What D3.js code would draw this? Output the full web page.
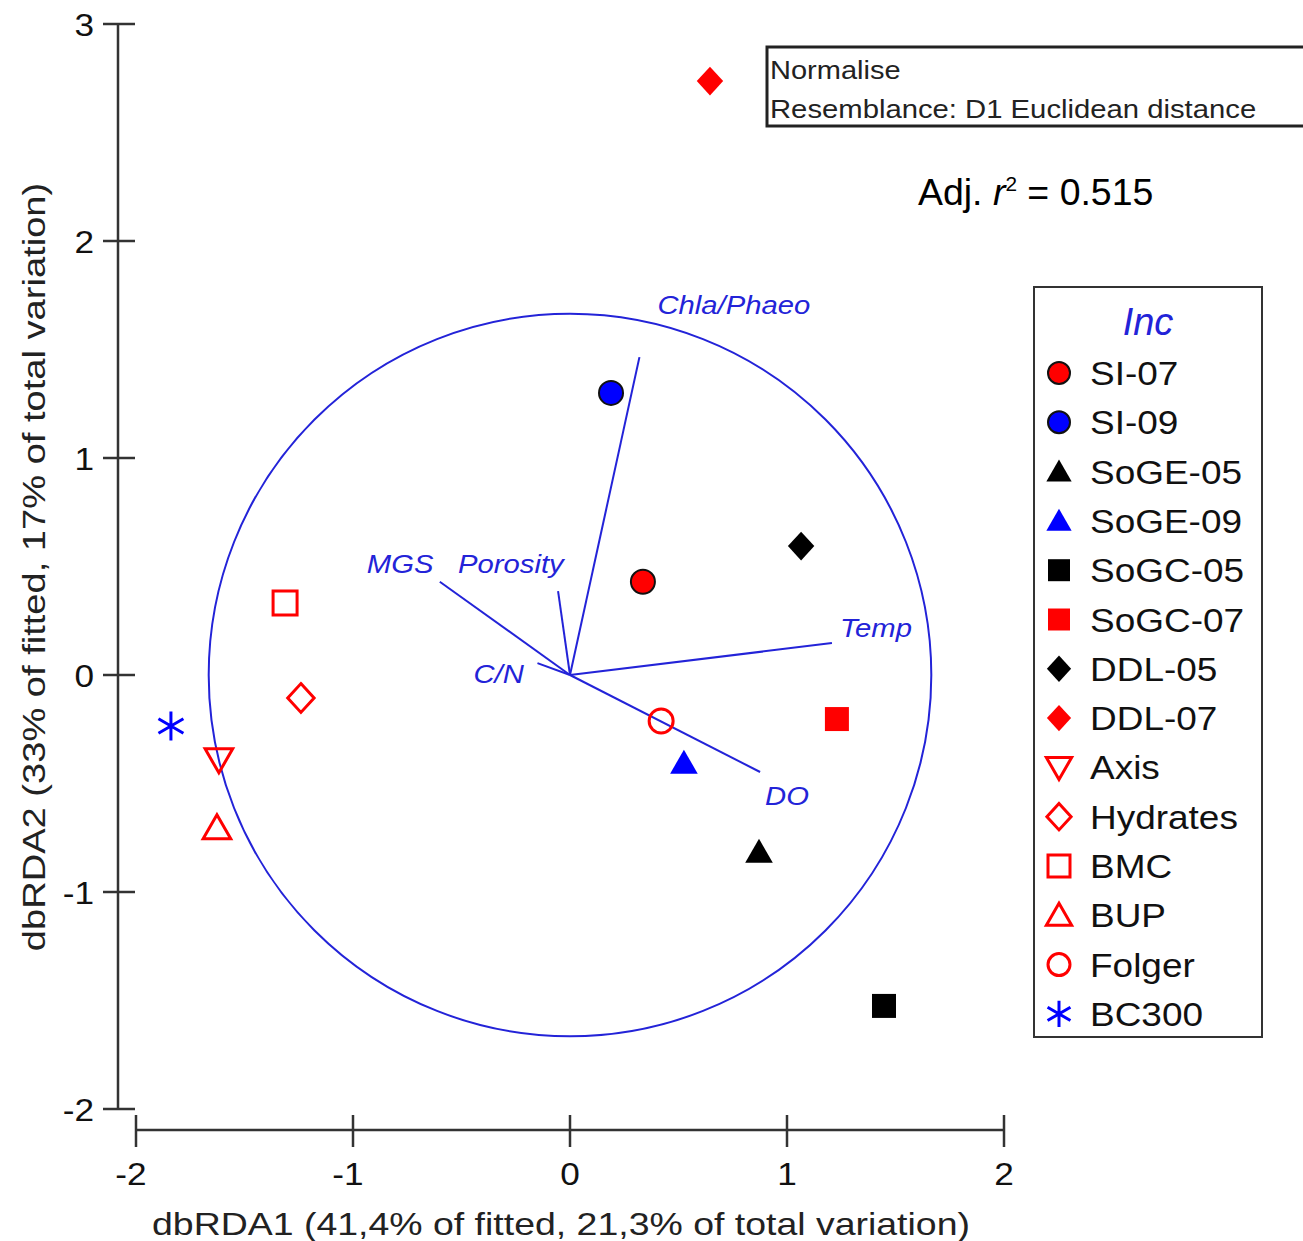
<!DOCTYPE html>
<html>
<head>
<meta charset="utf-8">
<script src="https://cdn.jsdelivr.net/npm/d3@7"></script>
<style>
body { margin: 0; background: #fff; }
text { font-family: "Liberation Sans", Arial, sans-serif; }
</style>
</head>
<body>
<div id="plot"></div>
<script>
// samples (dbRDA1, dbRDA2)
var groups  = ["SI-07", "SI-09", "SoGE-05", "SoGE-09", "SoGC-05", "SoGC-07", "DDL-05", "DDL-07",
               "Axis", "Hydrates", "BMC", "BUP", "Folger", "BC300"];
var xs      = [0.336, 0.189, 0.871, 0.525, 1.447, 1.230, 1.065, 0.645,
               -1.618, -1.240, -1.313, -1.627, 0.420, -1.839];
var ys      = [0.430, 1.300, -0.816, -0.405, -1.525, -0.203, 0.594, 2.737,
               -0.390, -0.106, 0.332, -0.705, -0.212, -0.235];
var shapes  = ["circle", "circle", "triangle", "triangle", "square", "square", "diamond", "diamond",
               "triDown", "diamond", "square", "triangle", "circle", "star"];
var colors  = ["#ff0000", "#0000ff", "#000000", "#0000ff", "#000000", "#ff0000", "#000000", "#ff0000",
               "#ff0000", "#ff0000", "#ff0000", "#ff0000", "#ff0000", "#0000ff"];
var filled  = [true, true, true, true, true, true, true, true,
               false, false, false, false, false, false];

// vectors
var vecNames = ["Chla/Phaeo", "Porosity", "MGS", "C/N", "Temp", "DO"];
var vecX     = [0.32, -0.055, -0.60, -0.15, 1.207, 0.876];
var vecY     = [1.465, 0.387, 0.43, 0.055, 0.147, -0.447];

var xTicks = [-2, -1, 0, 1, 2];
var yTicks = [-2, -1, 0, 1, 2, 3];
var circleR = 1.665;

var W = 1303, H = 1241;
var svg = d3.select("#plot").append("svg").attr("width", W).attr("height", H);

var x = d3.scaleLinear().domain([-2, 2]).range([136, 1004]);
var y = d3.scaleLinear().domain([-2, 3]).range([1109, 24]);

var axisCol = "#333";

// stretch text horizontally (the original font is wider)
function widen(sel, f) {
	sel.each(function() {
		var w = this.getComputedTextLength();
		d3.select(this).attr("textLength", w * f).attr("lengthAdjust", "spacingAndGlyphs");
	});
	return sel;
}

// y axis
svg.append("line").attr("x1", 118).attr("x2", 118).attr("y1", y(3)).attr("y2", y(-2))
	.attr("stroke", axisCol).attr("stroke-width", 2.5);
svg.selectAll(".yt").data(yTicks).enter().append("line")
	.attr("x1", 103).attr("x2", 135).attr("y1", d => y(d)).attr("y2", d => y(d))
	.attr("stroke", axisCol).attr("stroke-width", 2.5);
widen(svg.selectAll(".yl").data(yTicks).enter().append("text")
	.attr("x", 94).attr("y", d => y(d) + 12).attr("text-anchor", "end")
	.attr("font-size", 32).attr("fill", "#111").text(d => d), 1.1);

// x axis
svg.append("line").attr("x1", x(-2)).attr("x2", x(2)).attr("y1", 1130).attr("y2", 1130)
	.attr("stroke", axisCol).attr("stroke-width", 2.5);
svg.selectAll(".xt").data(xTicks).enter().append("line")
	.attr("x1", d => x(d)).attr("x2", d => x(d)).attr("y1", 1115).attr("y2", 1147)
	.attr("stroke", axisCol).attr("stroke-width", 2.5);
widen(svg.selectAll(".xl").data(xTicks).enter().append("text")
	.attr("x", d => x(d) - (d < 0 ? 5 : 0)).attr("y", 1185).attr("text-anchor", "middle")
	.attr("font-size", 32).attr("fill", "#111").text(d => d), 1.1);

// axis titles
widen(svg.append("text").attr("x", 561).attr("y", 1235).attr("text-anchor", "middle")
	.attr("font-size", 32).attr("fill", "#222")
	.text("dbRDA1 (41,4% of fitted, 21,3% of total variation)"), 1.17);
widen(svg.append("text").attr("transform", "translate(45,567) rotate(-90)").attr("text-anchor", "middle")
	.attr("font-size", 32).attr("fill", "#222")
	.text("dbRDA2 (33% of fitted, 17% of total variation)"), 1.19);

// correlation circle
svg.append("ellipse").attr("cx", x(0)).attr("cy", y(0))
	.attr("rx", x(circleR) - x(0)).attr("ry", y(0) - y(circleR))
	.attr("fill", "none").attr("stroke", "#2323d8").attr("stroke-width", 2);

// vectors
var vecs = vecNames.map((n, i) => ({name: n, x: vecX[i], y: vecY[i]}));
svg.selectAll(".vec").data(vecs).enter().append("line")
	.attr("x1", x(0)).attr("y1", y(0)).attr("x2", d => x(d.x)).attr("y2", d => y(d.y))
	.attr("stroke", "#2323d8").attr("stroke-width", 2);

// vector labels (offsets from tip)
var labOff = {"Chla/Phaeo": [18, -43], "Porosity": [-100, -18], "MGS": [-73, -9],
	"C/N": [-64, 20], "Temp": [8, -6], "DO": [5, 33]};
widen(svg.selectAll(".vl").data(vecs).enter().append("text")
	.attr("x", d => x(d.x) + labOff[d.name][0]).attr("y", d => y(d.y) + labOff[d.name][1])
	.attr("font-size", 25).attr("font-style", "italic").attr("fill", "#2323d8")
	.text(d => d.name), 1.17);

// marker shapes
function shapePath(s, r) {
	var p = d3.path();
	if (s == "circle") { p.arc(0, 0, r, 0, 2 * Math.PI); }
	else if (s == "square") { p.rect(-r, -r, 2 * r, 2 * r); }
	else if (s == "triangle") { p.moveTo(0, -r * 1.1); p.lineTo(r * 1.15, r * 0.9); p.lineTo(-r * 1.15, r * 0.9); p.closePath(); }
	else if (s == "triDown") { p.moveTo(0, r * 1.1); p.lineTo(r * 1.15, -r * 0.9); p.lineTo(-r * 1.15, -r * 0.9); p.closePath(); }
	else if (s == "diamond") { p.moveTo(0, -r * 1.2); p.lineTo(r * 1.1, 0); p.lineTo(0, r * 1.2); p.lineTo(-r * 1.1, 0); p.closePath(); }
	else if (s == "star") {
		for (var k = 0; k < 3; k++) {
			var a = Math.PI / 2 + k * Math.PI / 3;
			p.moveTo(r * 1.2 * Math.cos(a), r * 1.2 * Math.sin(a));
			p.lineTo(-r * 1.2 * Math.cos(a), -r * 1.2 * Math.sin(a));
		}
	}
	return p.toString();
}

function drawMarker(g, i, r) {
	var s = shapes[i];
	var f = filled[i];
	var outline = (s == "circle" && f) ? "#111" : colors[i];
	g.append("path").attr("d", shapePath(s, r))
		.attr("fill", f ? colors[i] : "none")
		.attr("stroke", s == "star" ? colors[i] : outline)
		.attr("stroke-width", f ? (s == "circle" ? 2 : 0) : 3);
}

var pts = groups.map((g, i) => i);
pts.forEach(function(i) {
	var g = svg.append("g").attr("transform", "translate(" + x(xs[i]) + "," + y(ys[i]) + ")");
	drawMarker(g, i, 12);
});

// info box
svg.append("rect").attr("x", 767).attr("y", 47).attr("width", 560).attr("height", 79)
	.attr("fill", "#fff").attr("stroke", "#222").attr("stroke-width", 3);
widen(svg.append("text").attr("x", 770).attr("y", 79).attr("font-size", 25).attr("fill", "#222").text("Normalise"), 1.16);
widen(svg.append("text").attr("x", 770).attr("y", 118).attr("font-size", 25).attr("fill", "#222")
	.text("Resemblance: D1 Euclidean distance"), 1.17);

// adj r2
var rt = svg.append("text").attr("x", 918).attr("y", 205).attr("font-size", 36).attr("fill", "#000");
rt.append("tspan").text("Adj. ");
rt.append("tspan").attr("font-style", "italic").text("r");
rt.append("tspan").attr("font-size", 20).attr("dy", -14).text("2");
rt.append("tspan").attr("dy", 14).text(" = 0.515");
widen(rt, 1.04);

// legend
svg.append("rect").attr("x", 1034).attr("y", 287).attr("width", 228).attr("height", 750)
	.attr("fill", "#fff").attr("stroke", "#333").attr("stroke-width", 2);
svg.append("text").attr("x", 1148).attr("y", 335).attr("text-anchor", "middle")
	.attr("font-size", 38).attr("font-style", "italic").attr("fill", "#2323d8").text("Inc");
pts.forEach(function(i) {
	var cy = 373 + i * 49.3;
	var g = svg.append("g").attr("transform", "translate(1059," + cy + ")");
	drawMarker(g, i, 11);
	widen(svg.append("text").attr("x", 1090).attr("y", cy + 12).attr("font-size", 33).attr("fill", "#111").text(groups[i]), 1.12);
});
</script>
</body>
</html>
